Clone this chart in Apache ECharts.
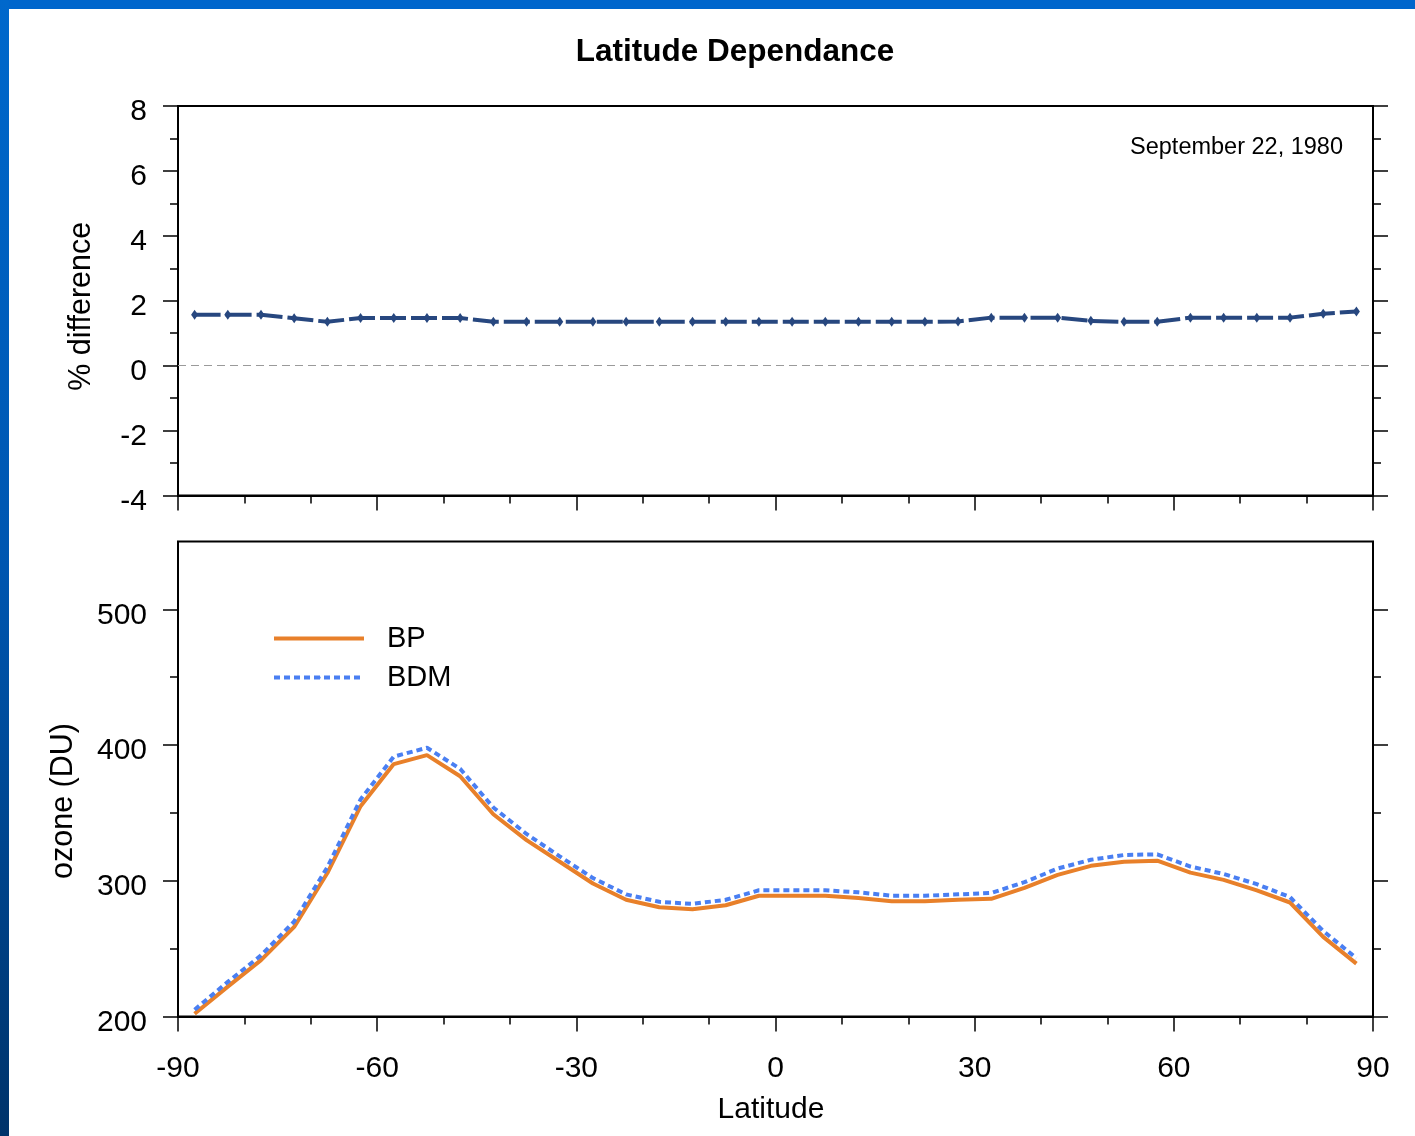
<!DOCTYPE html>
<html>
<head>
<meta charset="utf-8">
<script src="https://cdn.jsdelivr.net/npm/echarts@6/dist/echarts.min.js"></script>
<style>
  html, body { margin: 0; padding: 0; background: #fff; }
  #chart { position: absolute; left: 0; top: 0; width: 1415px; height: 1136px; }
  .bar_top { position: absolute; left: 0; top: 0; width: 1415px; height: 9px; background: #0066cc; }
  .bar_left { position: absolute; left: 0; top: 0; width: 9px; height: 1136px;
    background: linear-gradient(#0068cc, #0056b0 50%, #00336a); }
</style>
</head>
<body>
<div id="chart"></div>
<div class="bar_top"></div>
<div class="bar_left"></div>
<script>
// latitude bins (deg)
const lat = [-87.5, -82.5, -77.5, -72.5, -67.5, -62.5, -57.5, -52.5, -47.5, -42.5, -37.5, -32.5,
  -27.5, -22.5, -17.5, -12.5, -7.5, -2.5, 2.5, 7.5, 12.5, 17.5, 22.5, 27.5,
  32.5, 37.5, 42.5, 47.5, 52.5, 57.5, 62.5, 67.5, 72.5, 77.5, 82.5, 87.5];
// % difference (top panel)
const pctDiff = [1.57, 1.57, 1.57, 1.46, 1.35, 1.47, 1.47, 1.47, 1.47, 1.35, 1.35, 1.35,
  1.35, 1.35, 1.35, 1.35, 1.35, 1.35, 1.35, 1.35, 1.35, 1.35, 1.35, 1.36,
  1.48, 1.48, 1.48, 1.38, 1.35, 1.35, 1.48, 1.48, 1.48, 1.48, 1.60, 1.67];
// ozone (DU)
const bp = [202, 222, 241.5, 266, 305.7, 355, 386, 392.6, 377, 349, 330, 314,
  298, 286, 280.5, 279, 282, 289, 289, 289, 287.4, 285, 285, 286,
  286.7, 294.8, 304.4, 311, 314, 314.8, 306, 300.7, 293, 284, 258.7, 239];
const bdm = [205, 225.5, 245, 270, 310, 360, 391.5, 398, 382.5, 354, 334.5, 318,
  302, 290, 284.5, 283, 286, 293, 293, 293, 291.5, 289, 289, 290,
  291, 299, 309, 315.5, 319, 319.5, 310.5, 305, 297.5, 288, 263, 243];
const ozoneMajor = [200, 300, 400, 500];
const ozoneMinor = [250, 350, 450];

const font = "'Liberation Sans', Arial, sans-serif";
const pairs = (ys) => lat.map((x, i) => [x, ys[i]]);

const myChart = echarts.init(document.getElementById("chart"));

const tickStyle = { color: "#000", width: 1.5 };
// y tick labels sit a little below their ticks in the original
const yLabel = { margin: 31, fontSize: 30, color: "#000", fontFamily: font, verticalAlign: "top", lineHeight: 12 };

const xBase = (gridIndex, labels) => ({
  type: "value",
  gridIndex: gridIndex,
  min: -90,
  max: 90,
  interval: 30,
  splitLine: { show: false },
  axisLine: { show: true, onZero: false, lineStyle: { color: "#000", width: 2 } },
  axisTick: { show: true, length: 15, lineStyle: tickStyle },
  minorTick: { show: true, splitNumber: 3, length: 8, lineStyle: tickStyle },
  axisLabel: { show: labels, margin: 37, fontSize: 30, color: "#000", fontFamily: font }
});

const yBase = (gridIndex, pos, min, max) => ({
  type: "value",
  gridIndex: gridIndex,
  position: pos,
  min: min,
  max: max,
  splitLine: { show: false },
  axisLine: { show: true, onZero: false, lineStyle: { color: "#000", width: 1.5 } },
  axisLabel: { show: false }
});

const option = {
  backgroundColor: "#fff",
  animation: false,
  title: [
    {
      text: "Latitude Dependance",
      left: 730,
      top: 31,
      textAlign: "center",
      textStyle: { fontSize: 31.5, fontWeight: "bold", color: "#000", fontFamily: font }
    },
    {
      text: "September 22, 1980",
      right: 67,
      top: 131,
      textStyle: { fontSize: 23.5, fontWeight: "normal", color: "#000", fontFamily: font }
    }
  ],
  legend: {
    data: ["BP", "BDM"],
    orient: "vertical",
    left: 272,
    top: 624,
    padding: 0,
    itemWidth: 90,
    itemHeight: 4,
    itemGap: 10,
    lineStyle: { width: 4 },
    textStyle: { fontSize: 29, color: "#000", fontFamily: font, padding: [0, 0, 0, 18] }
  },
  grid: [
    { left: 178, right: 42, top: 106, height: 389.5, show: true, borderColor: "#000", borderWidth: 2 },
    { left: 178, right: 42, top: 541.5, height: 475, show: true, borderColor: "#000", borderWidth: 2 }
  ],
  xAxis: [xBase(0, false), {
    ...xBase(1, true),
    name: "Latitude",
    nameLocation: "middle",
    nameGap: 78,
    nameTextStyle: { fontSize: 30, color: "#000", fontFamily: font, padding: [0, 9, 0, 0] }
  }],
  yAxis: [
    {
      ...yBase(0, "left", -4, 8),
      interval: 2,
      name: "% difference",
      nameLocation: "middle",
      nameGap: 81,
      nameTextStyle: { fontSize: 30.5, color: "#000", fontFamily: font, padding: [0, 11, 0, 0] },
      axisTick: { length: 15, lineStyle: tickStyle },
      minorTick: { show: true, splitNumber: 2, length: 8, lineStyle: tickStyle },
      axisLabel: yLabel
    },
    {
      ...yBase(0, "right", -4, 8),
      interval: 2,
      axisTick: { length: 15, lineStyle: tickStyle },
      minorTick: { show: true, splitNumber: 2, length: 8, lineStyle: tickStyle }
    },
    {
      ...yBase(1, "left", 200, 550),
      interval: 50,
      name: "ozone (DU)",
      nameLocation: "middle",
      nameGap: 99,
      nameTextStyle: { fontSize: 30.5, color: "#000", fontFamily: font, padding: [0, 44, 0, 0] },
      axisTick: { length: 15, customValues: ozoneMajor, lineStyle: tickStyle },
      axisLabel: { ...yLabel, customValues: ozoneMajor }
    },
    {
      ...yBase(1, "left", 200, 550),
      axisLine: { show: false, onZero: false },
      axisTick: { length: 8, customValues: ozoneMinor, lineStyle: tickStyle }
    },
    {
      ...yBase(1, "right", 200, 550),
      axisTick: { length: 15, customValues: ozoneMajor, lineStyle: tickStyle }
    },
    {
      ...yBase(1, "right", 200, 550),
      axisLine: { show: false, onZero: false },
      axisTick: { length: 8, customValues: ozoneMinor, lineStyle: tickStyle }
    }
  ],
  series: [
    {
      name: "% difference",
      type: "line",
      xAxisIndex: 0,
      yAxisIndex: 0,
      data: pairs(pctDiff),
      symbol: "diamond",
      symbolSize: [7, 10],
      itemStyle: { color: "#27477f" },
      lineStyle: { color: "#27477f", width: 4, type: [26, 5] },
      markLine: {
        silent: true,
        symbol: "none",
        label: { show: false },
        lineStyle: { color: "#9a9a9a", width: 1, type: [8, 5] },
        data: [{ yAxis: 0 }]
      }
    },
    {
      name: "BP",
      type: "line",
      xAxisIndex: 1,
      yAxisIndex: 2,
      data: pairs(bp),
      symbol: "none",
      itemStyle: { color: "#e8802a" },
      lineStyle: { color: "#e8802a", width: 4 }
    },
    {
      name: "BDM",
      type: "line",
      xAxisIndex: 1,
      yAxisIndex: 2,
      data: pairs(bdm),
      symbol: "none",
      itemStyle: { color: "#4a7ff2" },
      lineStyle: { color: "#4a7ff2", width: 4, type: [6, 4] }
    }
  ]
};

myChart.setOption(option);
window.onresize = function() {
  myChart.resize();
};
</script>
</body>
</html>
